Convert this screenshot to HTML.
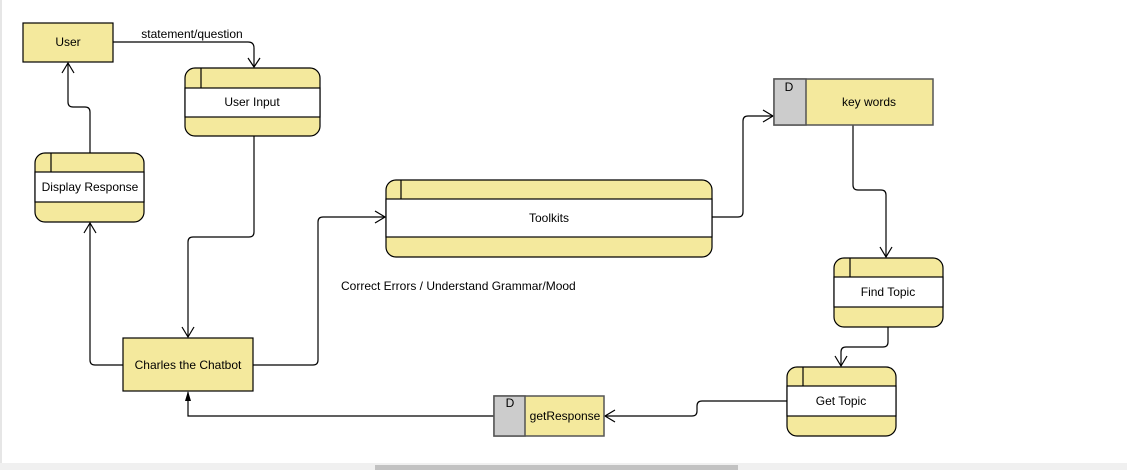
<!DOCTYPE html>
<html><head><meta charset="utf-8"><style>
body{margin:0;width:1127px;height:470px;overflow:hidden;background:#fff;font-family:"Liberation Sans",Arial,sans-serif}
svg text{font-family:"Liberation Sans",Arial,sans-serif;font-size:12px;fill:#000}
</style></head><body>
<svg width="1127" height="470" viewBox="0 0 1127 470" xmlns="http://www.w3.org/2000/svg">
<rect x="0" y="0" width="2" height="470" fill="#e6e6e6"/>
<rect x="0" y="463" width="1127" height="7" fill="#f0f0f0"/>
<rect x="375" y="465" width="363" height="5" fill="#c2c2c2"/>
<g fill="none" stroke="#000" stroke-width="1.2">
<path d="M113 42 H248 Q254 42 254 48 V67"/><path d="M248 58 L254 67 L260 58"/>
<path d="M254 136 V232 Q254 237 249 237 H193 Q188 237 188 242 V337"/><path d="M182 327 L188 337 L194 327"/>
<path d="M123 365 H95 Q90 365 90 360 V223"/><path d="M84 233 L90 223 L96 233"/>
<path d="M90 153 V112 Q90 107 85 107 H73 Q68 107 68 102 V63"/><path d="M62 73 L68 63 L74 73"/>
<path d="M253 365 H313 Q318 365 318 360 V222 Q318 217 323 217 H385"/><path d="M375 211 L385 217 L375 223"/>
<path d="M712 217 H738 Q743 217 743 212 V121 Q743 116 748 116 H773"/><path d="M763 110 L773 116 L763 122"/>
<path d="M853 125 V185 Q853 190 858 190 H881 Q886 190 886 195 V257"/><path d="M880 247 L886 257 L892 247"/>
<path d="M888 327 V342 Q888 347 883 347 H846 Q841 347 841 352 V366"/><path d="M835 356 L841 366 L847 356"/>
<path d="M787 401 H702 Q697 401 697 406 V411 Q697 416 692 416 H605"/><path d="M615 410 L605 416 L615 422"/>
<path d="M494 416 H188 V392"/>
</g>
<path d="M188 391 L185 401 L191 401 Z" fill="#000"/>
<g stroke="#000" stroke-width="1.2">
<rect x="23" y="23" width="90" height="39" fill="#f4e99d"/>
<rect x="123" y="338" width="130" height="53" fill="#f4e99d"/>
</g>
<text x="68" y="46" text-anchor="middle">User</text>
<text x="188" y="369" text-anchor="middle">Charles the Chatbot</text>
<text x="192" y="38" text-anchor="middle">statement/question</text>
<text x="341" y="290">Correct Errors / Understand Grammar/Mood</text>
<!-- process boxes -->
<g stroke="#000" stroke-width="1.2">
<rect x="185" y="68" width="135" height="68" rx="10" fill="#f4e99d"/>
<rect x="185" y="88" width="135" height="29" fill="#fff"/>
<line x1="201" y1="68" x2="201" y2="88"/>
<rect x="35" y="153" width="109" height="69" rx="10" fill="#f4e99d"/>
<rect x="35" y="172" width="109" height="30" fill="#fff"/>
<line x1="51" y1="153" x2="51" y2="172"/>
<rect x="386" y="180" width="326" height="77" rx="10" fill="#f4e99d"/>
<rect x="386" y="199" width="326" height="38" fill="#fff"/>
<line x1="401" y1="180" x2="401" y2="199"/>
<rect x="834" y="258" width="109" height="69" rx="10" fill="#f4e99d"/>
<rect x="834" y="277" width="109" height="30" fill="#fff"/>
<line x1="850" y1="258" x2="850" y2="277"/>
<rect x="787" y="367" width="109" height="69" rx="10" fill="#f4e99d"/>
<rect x="787" y="386" width="109" height="30" fill="#fff"/>
<line x1="803" y1="367" x2="803" y2="386"/>
</g>
<g stroke="#555" stroke-width="1.5">
<rect x="774" y="79" width="159" height="46" fill="#f4e99d"/>
<rect x="774" y="79" width="32" height="46" fill="#cccccc"/>
<rect x="494" y="396" width="110" height="40" fill="#f4e99d"/>
<rect x="494" y="396" width="31" height="40" fill="#cccccc"/>
</g>
<text x="252" y="106" text-anchor="middle">User Input</text>
<text x="90" y="191" text-anchor="middle">Display Response</text>
<text x="549" y="222" text-anchor="middle">Toolkits</text>
<text x="888" y="296" text-anchor="middle">Find Topic</text>
<text x="841" y="405" text-anchor="middle">Get Topic</text>
<text x="789" y="91" text-anchor="middle">D</text>
<text x="869" y="106" text-anchor="middle">key words</text>
<text x="510" y="407" text-anchor="middle">D</text>
<text x="565" y="420" text-anchor="middle">getResponse</text>
</svg>
</body></html>
